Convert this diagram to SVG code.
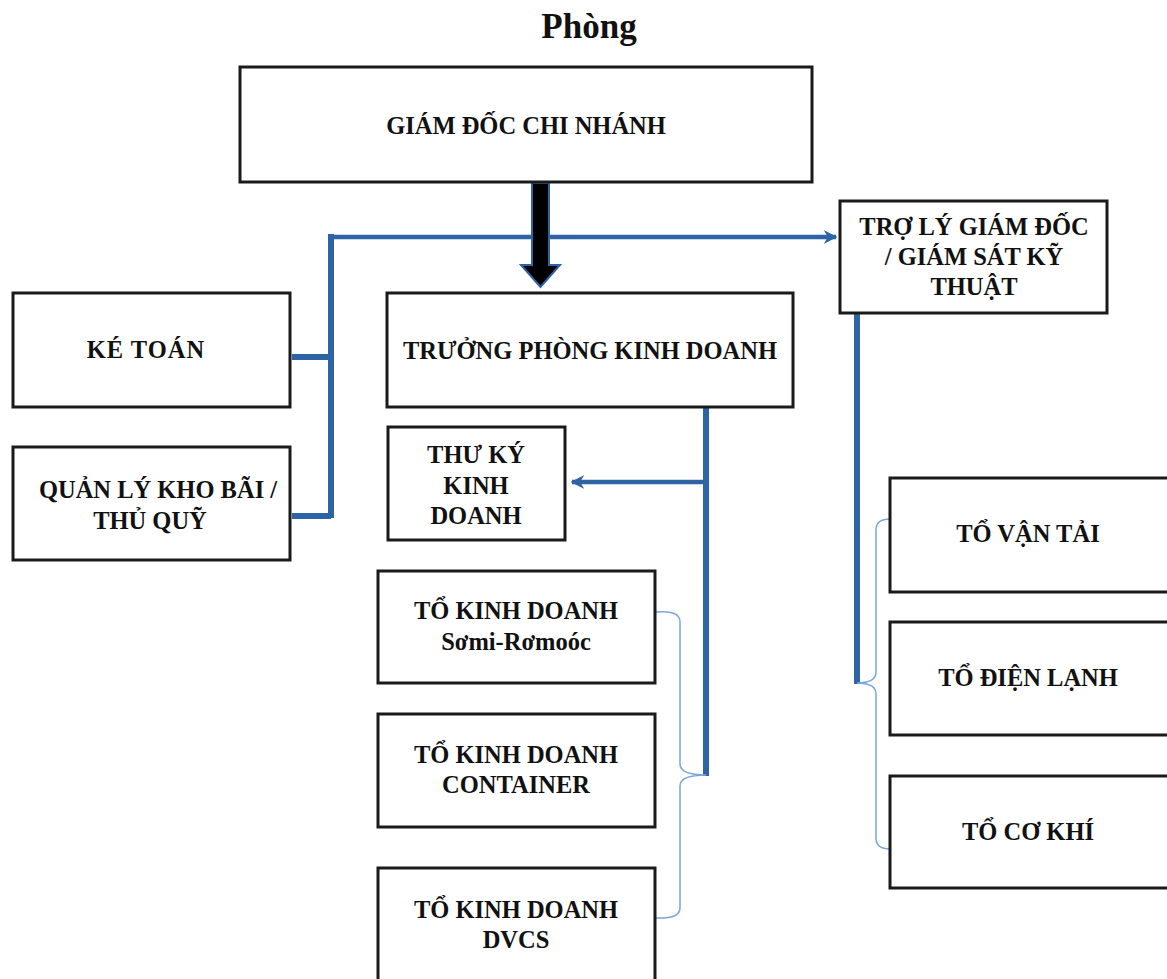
<svg xmlns="http://www.w3.org/2000/svg" width="1167" height="979" viewBox="0 0 1167 979">
<defs>
<style>
.box{fill:#fff;stroke:#1a1a1a;stroke-width:3}
.t{font-family:"Liberation Serif","Times New Roman",serif;font-weight:bold;font-size:24.5px;fill:#111;text-anchor:middle}
.bl{stroke:#2e63a6;stroke-width:6;fill:none}
.br{stroke:#7aa6dc;stroke-width:1.5;fill:none}
</style>
<marker id="ah" viewBox="0 0 10 10" refX="9" refY="5" markerWidth="3" markerHeight="3" orient="auto" markerUnits="strokeWidth">
<path d="M0,0 L10,5 L0,10 L3,5 Z" fill="#2e63a6"/>
</marker>
</defs>
<rect width="1167" height="979" fill="#fff"/>
<text x="589" y="38" style="font-family:'Liberation Serif','Times New Roman',serif;font-weight:bold;font-size:35px;text-anchor:middle;fill:#111">Phòng</text>

<g id="connectors">
<polyline class="bl" points="292,357 331,357"/>
<polyline class="bl" points="292,516 331,516"/>
<polyline class="bl" points="331,518 331,234"/>
<line x1="331" y1="237" x2="836" y2="237" stroke="#2e63a6" stroke-width="4.5" marker-end="url(#ah)"/>
<polygon points="532,183 549,183 549,265 560,265 540.5,287 521,265 532,265" fill="#000" stroke="#2e63a6" stroke-width="2"/>
<polyline class="bl" points="706,407 706,776"/>
<line x1="706" y1="482" x2="572" y2="482" stroke="#2e63a6" stroke-width="4.5" marker-end="url(#ah)"/>
<path class="br" d="M656,612 Q680,610 680,622 L680,764 Q680,775 706,775 Q680,775 680,786 L680,908 Q680,919 656,918"/>
<polyline class="bl" points="857,314 857,684"/>
<path class="br" d="M890,519 Q876,519 876,530 L876,672 Q876,683 857,683 Q876,683 876,694 L876,838 Q876,849 890,849"/>
</g>

<g id="giam-doc"><rect class="box" x="240" y="67" width="572" height="115"/><text class="t" x="526" y="134">GIÁM ĐỐC CHI NHÁNH</text></g>
<g id="ke-toan"><rect class="box" x="13" y="293" width="277" height="114"/><text class="t" x="146" y="358" letter-spacing="1">KÉ TOÁN</text></g>
<g id="quan-ly-kho"><rect class="box" x="13" y="447" width="277" height="113"/><text class="t" x="158" y="498">QUẢN LÝ KHO BÃI /</text><text class="t" x="150" y="529">THỦ QUỸ</text></g>
<g id="truong-phong"><rect class="box" x="387" y="293" width="406" height="114"/><text class="t" x="590" y="359">TRƯỞNG PHÒNG KINH DOANH</text></g>
<g id="thu-ky"><rect class="box" x="388" y="427" width="177" height="113"/><text class="t" x="476" y="463">THƯ KÝ</text><text class="t" x="476" y="494">KINH</text><text class="t" x="476" y="524">DOANH</text></g>
<g id="to-kd-somi"><rect class="box" x="378" y="571" width="277" height="112"/><text class="t" x="516" y="619">TỔ KINH DOANH</text><text class="t" x="516" y="650">Sơmi-Rơmoóc</text></g>
<g id="to-kd-container"><rect class="box" x="378" y="714" width="277" height="113"/><text class="t" x="516" y="763">TỔ KINH DOANH</text><text class="t" x="516" y="793">CONTAINER</text></g>
<g id="to-kd-dvcs"><rect class="box" x="378" y="868" width="277" height="120"/><text class="t" x="516" y="918">TỔ KINH DOANH</text><text class="t" x="516" y="948">DVCS</text></g>
<g id="tro-ly"><rect class="box" x="840" y="201" width="267" height="112"/><text class="t" x="974" y="235">TRỢ LÝ GIÁM ĐỐC</text><text class="t" x="974" y="265">/ GIÁM SÁT KỸ</text><text class="t" x="974" y="295">THUẬT</text></g>
<g id="to-van-tai"><rect class="box" x="890" y="478" width="280" height="114"/><text class="t" x="1028" y="542">TỔ VẬN TẢI</text></g>
<g id="to-dien-lanh"><rect class="box" x="890" y="622" width="280" height="113"/><text class="t" x="1028" y="686">TỔ ĐIỆN LẠNH</text></g>
<g id="to-co-khi"><rect class="box" x="890" y="776" width="280" height="112"/><text class="t" x="1028" y="840">TỔ CƠ KHÍ</text></g>
</svg>
